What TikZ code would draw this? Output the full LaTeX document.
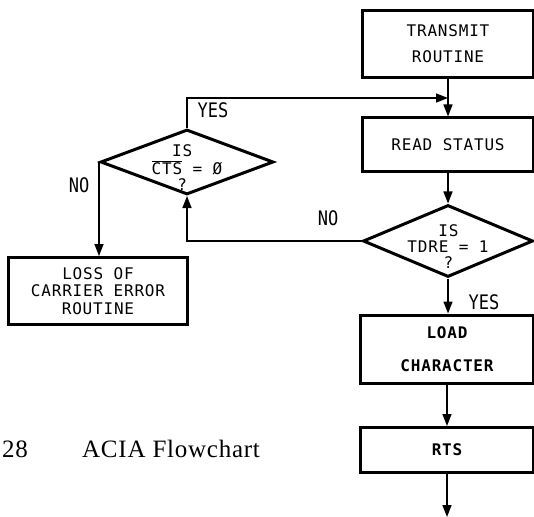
\documentclass[tikz,border=0pt]{standalone}
\usepackage{fontspec}
\usepackage{tikz}
\usetikzlibrary{arrows.meta,shapes.geometric}

\newfontfamily\boxfont[LetterSpace=5]{DejaVu Sans Mono}
\newfontfamily\tagfont[FakeStretch=0.85]{DejaVu Sans Mono}
\newfontfamily\capfont[LetterSpace=3]{Liberation Serif}

% three-line question inside a decision diamond (takes no room of its own)
\newcommand{\askbox}[2]{\raisebox{-12bp}[0pt][0pt]{\makebox[0pt]{\def\arraystretch{0.85}%
  \begin{tabular}{@{}r@{}c@{}l@{}}
    & \makebox[0pt]{IS} & \\ #1 & & #2 \\ & \makebox[0pt]{?} &
  \end{tabular}}}}

\begin{document}
\begin{tikzpicture}[
    x=1bp, y=-1bp,
    box/.style={draw, line width=3bp, align=center, inner sep=0pt,
        font=\boxfont\fontsize{16bp}{17.5bp}\selectfont},
    decision/.style={diamond, draw, line width=3bp, inner sep=0pt,
        font=\boxfont\fontsize{16bp}{17.5bp}\selectfont},
    flow/.style={-{Triangle[length=12bp,width=9bp]}, line width=1.5bp},
    answer/.style={font=\tagfont\fontsize{20bp}{22bp}\selectfont, inner sep=0pt}
]
\useasboundingbox (0,0) rectangle (534,517);

\node[box, minimum width=171bp, minimum height=67bp] (transmit) at (448,44) {TRANSMIT\\[8.5bp]ROUTINE};
\node[box, minimum width=171bp, minimum height=54bp] (status) at (448,145) {READ STATUS};
\node[decision, minimum width=170bp, minimum height=72bp] (tdre) at (448,241) {\askbox{TDRE}{\ = 1}};
\node[box, minimum width=173bp, minimum height=68bp] (load) at (447,349) {\bfseries LOAD\\[15.5bp]\bfseries CHARACTER};
\node[box, minimum width=173bp, minimum height=45bp] (rts) at (447,450) {\bfseries RTS};
\node[decision, minimum width=173bp, minimum height=65bp] (cts) at (187,162) {\askbox{$\overline{\mbox{CTS}}$}{\ = Ø}};
\node[box, minimum width=179bp, minimum height=67bp] (loss) at (98,291) {LOSS OF\\CARRIER ERROR\\ROUTINE};

\coordinate (join) at (448,98);
\coordinate (exit) at (447,517);

\draw[flow] (transmit) -- (status);
\draw[flow] (status) -- (tdre);
\draw[flow] (tdre.south) -- (tdre.south |- load.north);
\draw[flow] (load) -- (rts);
\draw[flow] (rts) -- (exit);
\draw[flow] (cts.north) |- (join);
\draw[flow] (tdre.west) -| (cts.south);
\draw[flow] (cts.west) -- (cts.west |- loss.north);

\node[answer] (yes1) at (213,110) {YES};
\node[answer] (yes2) at (484,302) {YES};
\node[answer] (no1) at (79,185) {NO};
\node[answer] (no2) at (328,218) {NO};

\node[anchor=base west, inner sep=0pt, font=\capfont\fontsize{25bp}{26bp}\selectfont] (num) at (2,457) {28};
\node[anchor=base west, inner sep=0pt, font=\capfont\fontsize{25bp}{26bp}\selectfont] (title) at (82,457) {ACIA Flowchart};
\end{tikzpicture}
\end{document}
